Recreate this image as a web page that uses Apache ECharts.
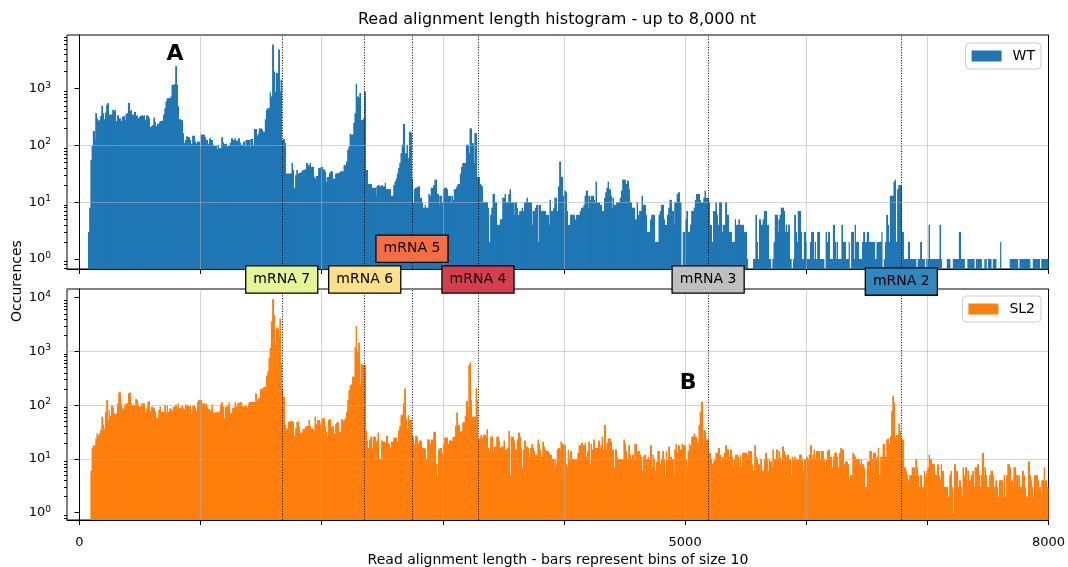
<!DOCTYPE html>
<html><head><meta charset="utf-8">
<script src="https://cdn.jsdelivr.net/npm/echarts@6/dist/echarts.min.js"></script>
<style>html,body{margin:0;padding:0;background:#fff}#c{width:1068px;height:567px}</style>
</head><body><div id="c"></div>
<script>
const binSize = 10;
const xMin = -103, xMax = 8000;
const wtCounts = [
0,0,0,0,0,0,0,3,8,56, 100,180,125,370,300,275,280,330,500,370,
290,380,520,560,350,350,350,425,400,425, 270,340,300,300,270,320,330,280,360,370,
560,400,420,350,350,390,330,340,300,320, 330,340,330,340,280,340,330,300,210,220,
230,310,260,220,240,245,270,270,275,350, 450,600,680,680,680,730,1170,1170,1200,2500,
1170,490,290,275,280,165,110,125,145,140, 140,125,107,148,148,117,110,117,117,96,
155,155,155,140,125,125,107,134,125,125, 103,98,98,86,103,90,90,140,113,107,
107,90,98,98,110,134,125,125,134,122, 122,134,113,103,103,117,96,125,125,125,
93,130,130,103,195,195,145,160,200,200, 190,175,175,290,425,455,455,860,730,6000,
2000,890,1900,1900,4900,890,1450,125,130,110, 32,32,32,32,32,49,37,18,30,37,
32,33,33,35,37,37,38,49,45,45, 49,42,42,28,26,29,29,40,40,42,
42,38,35,23,28,28,33,35,35,26, 26,32,32,33,33,35,35,35,45,45,
52,84,96,160,155,155,250,370,1220,730, 680,840,280,280,300,890,37,37,21,21,
21,18,18,18,13,19,20,20,19,20, 19,19,22,17,17,17,17,13,13,20,
23,26,32,40,49,73,103,240,73,73, 103,60,175,165,26,10,17,18,18,19,
19,12,10,8,8,9,8,8,14,13, 18,18,20,25,25,14,9,13,13,10,
17,18,18,17,13,13,10,13,11,17, 17,19,21,21,32,42,49,49,49,103,
103,73,200,200,110,49,165,165,28,28, 21,20,19,10,10,10,10,8,2,6,
8,14,14,10,4,4,4,5,5,12, 12,14,10,10,14,17,10,10,6,10,
10,8,6,7,7,8,7,10,10,12, 10,10,10,4,7,7,8,9,2,9,
9,7,7,7,7,6,6,4,11,7, 7,8,12,12,7,19,52,28,28,13,
16,15,7,4,4,6,6,6,6,5, 6,6,6,7,8,8,9,13,16,8,
13,11,13,13,11,10,23,10,10,9, 9,7,7,12,15,18,23,17,13,8,
12,9,9,10,10,10,12,16,25,25, 25,21,24,17,10,10,8,8,5,5,
10,6,7,7,13,9,9,6,3,3, 3,5,6,6,6,2,2,2,6,7,
9,9,5,4,4,6,8,11,11,7, 4,10,10,14,15,10,10,0,3,3,
5,7,3,3,4,7,7,8,11,14, 14,14,11,10,10,12,16,12,12,10,
4,4,2,7,7,10,6,4,10,10, 3,4,4,10,6,6,3,3,2,2,
2,5,4,4,5,4,4,4,3,3, 3,1,0,0,0,0,1,1,6,2,
1,5,4,4,5,7,7,4,4,1, 1,0,1,2,6,6,3,5,6,8,
8,7,3,4,3,4,1,1,0,1, 6,3,2,7,7,3,1,1,3,2,
1,1,1,2,3,3,1,2,1,3, 3,1,1,1,1,0,3,2,3,1,
1,1,4,2,1,2,1,1,1,4, 2,2,1,1,1,2,0,3,3,1,
4,2,2,1,1,1,2,3,2,2, 3,2,2,2,2,2,1,1,2,2,
2,2,3,0,1,2,6,4,2,13, 13,13,23,25,2,17,20,20,20,3,
1,1,1,1,2,1,1,1,1,1, 1,0,1,1,2,1,1,1,0,1,
1,4,1,1,1,1,1,1,1,1, 4,1,0,0,0,0,1,1,1,0,
0,1,1,1,1,1,3,1,1,1, 1,0,0,1,1,1,1,1,1,0,
1,1,1,1,1,0,0,1,1,0, 1,1,1,0,1,1,1,0,0,0,
2,0,0,0,0,0,0,0,1,1, 1,1,1,1,1,0,1,1,1,1,
1,1,1,1,1,0,0,1,1,1, 1,1,1,0,1,1,1,1,1,1
];
const sl2Counts = [
0,0,0,0,0,0,0,0,0,6, 16,18,17,24,30,27,30,35,61,44,
37,75,125,53,81,63,98,90,70,70, 70,108,173,173,108,87,87,103,108,108,
166,173,108,100,103,100,130,125,103,94, 94,108,108,108,75,87,115,119,78,94,
90,87,75,58,58,81,94,75,75,75, 100,73,100,75,87,85,78,94,94,103,
85,108,90,81,98,87,85,103,98,98, 94,98,70,98,98,90,78,115,125,125,
125,108,108,98,108,94,85,75,81,103, 73,73,73,75,73,78,103,113,94,57,
94,94,98,113,70,73,90,90,113,94, 108,108,115,113,98,94,98,98,90,108,
115,115,115,115,115,166,119,133,138,200, 200,210,220,220,355,430,760,1170,3650,9400,
4800,1350,2700,2700,1790,4100,600,205,144,43, 36,37,49,50,50,50,50,27,37,49,
50,40,31,31,36,36,40,41,41,53, 41,37,36,33,61,44,53,53,43,49,
57,57,40,32,26,53,55,40,40,41, 30,44,48,48,32,32,55,50,53,58,
75,125,190,235,245,340,340,1200,3000,1000, 1450,245,600,570,560,560,34,22,16,23,
26,16,26,26,20,22,31,10,10,22, 21,21,20,27,20,19,16,21,21,25,
25,25,21,34,41,65,67,108,205,57, 36,65,53,53,28,26,19,27,26,19,
22,22,16,16,16,15,10,23,23,19, 23,23,32,32,8,5,15,16,16,13,
19,25,25,25,19,22,22,22,26,26, 41,73,43,43,32,33,48,48,63,119,
81,560,630,125,61,61,61,210,125,23, 25,28,25,28,28,26,36,16,14,26,
26,14,17,17,26,26,22,16,17,17, 22,15,15,16,33,5,26,26,22,15,
15,23,31,26,16,7,15,22,17,17, 16,11,16,19,16,14,12,12,23,19,
15,11,21,17,15,14,14,13,12,12, 10,7,10,8,15,16,15,21,19,19,
18,8,7,15,10,14,10,10,10,10, 10,13,18,18,20,18,18,20,11,14,
21,8,19,15,23,16,16,16,22,15, 18,26,15,43,15,20,24,24,21,15,
15,7,15,11,10,10,10,10,10,23, 19,14,10,18,12,10,12,9,19,19,
14,14,12,11,6,11,12,10,10,11, 10,18,7,12,10,6,9,14,14,8,
10,14,10,5,14,10,17,11,11,10, 5,15,19,13,18,15,15,19,18,18,
10,7,14,19,18,26,26,30,26,20, 20,43,75,116,17,34,34,23,23,13,
13,10,8,9,10,13,13,16,12,9, 11,11,13,18,15,15,11,15,11,7,
10,12,12,11,7,12,7,13,13,13, 13,12,14,14,14,8,6,18,11,10,
8,6,10,6,6,10,13,10,6,10, 9,7,15,10,10,15,10,14,11,8,
17,14,12,11,12,10,10,5,11,10, 11,10,10,10,12,12,10,6,10,10,
11,10,12,18,10,12,15,10,14,14, 14,10,14,14,10,7,10,14,15,11,
11,7,11,13,13,11,7,13,16,15, 15,8,9,9,8,4,5,5,13,12,
11,10,10,10,8,10,8,7,3,3, 9,9,14,14,10,13,13,10,11,16,
5,11,11,19,19,11,23,24,19,26, 78,150,113,26,28,28,46,33,23,23,
7,7,6,5,4,5,5,7,7,5, 10,7,5,3,5,3,3,6,5,6,
7,12,10,8,8,8,5,5,8,5, 4,8,6,3,3,3,3,2,5,6,
3,1,8,6,6,3,4,3,2,7, 5,7,3,6,4,4,5,6,3,7,
7,8,5,3,5,13,5,7,5,3, 3,5,6,6,5,3,4,3,2,4,
4,4,2,5,2,5,8,8,7,4, 3,7,7,5,3,5,3,3,6,5,
3,2,2,9,5,4,3,2,5,5, 5,4,3,2,4,4,7,4,3,3
];
const seriesNames = ['WT', 'SL2'];
const seriesColors = ['#1f77b4', '#ff7f0e'];
const xTicks = [0,1000,2000,3000,4000,5000,6000,7000,8000];
const xLabels = [0,5000,8000];
const yRangeTop = [0.667, 8830];
const yRangeBottom = [0.731, 14520];
const yTicksTop = [1,10,100,1000];
const yTicksBottom = [1,10,100,1000,10000];
const mrnaNames = ['mRNA 7','mRNA 6','mRNA 5','mRNA 4','mRNA 3','mRNA 2'];
const mrnaLengths = [1670,2355,2745,3290,5190,6785];
const mrnaColors = ['#e6f598','#fee08b','#f46d43','#d53e4f','#bfbfbf','#3288bd'];
const mrnaLabelY = [0.435,0.435,1.52,0.435,0.435,0.40];
const noteTexts = ['A','B'];
const noteX = [789, 5025];
const noteY = [4080, 259];
const notePanel = [0, 1];

const FONT = 'DejaVu Sans';
const gridColor = 'rgba(176,176,176,0.55)';

function minorTicks(range) {
  const out = [];
  for (let e = -1; e <= 5; e++) for (let m = 2; m <= 9; m++) {
    const v = m * Math.pow(10, e);
    if (v > range[0] && v < range[1]) out.push(v);
  }
  return out;
}
function toData(counts) {
  const d = [];
  counts.forEach((v, i) => { if (v > 0) d.push([i * binSize, v]); });
  return d;
}
function barItem(params, api) {
  const x0 = api.value(0), v = api.value(1);
  const p = api.coord([x0, v]);
  const q = api.coord([x0 + binSize, v]);
  const base = params.coordSys.y + params.coordSys.height;
  const cnt = params.dataInsideLength;
  const idx = params.dataIndexInside;
  let right = q[0];
  if (idx + 1 < cnt && api.value(0, idx + 1) === x0 + binSize) right = Math.ceil(q[0]) + 0.01;
  return { type: 'rect',
    shape: { x: p[0], y: p[1], width: right - p[0], height: base - p[1] },
    style: { fill: api.visual('color') } };
}
function powFmt(v) {
  const e = Math.round(Math.log10(v));
  return '{b|10}{s|' + e + '}';
}
function xAxisOpt(gi, showLabels) {
  return { gridIndex: gi, type: 'value', min: xMin, max: xMax, z: 10,
    axisLine: { show: true, onZero: false, lineStyle: { color: '#000', width: 1 } },
    axisTick: { show: true, length: 5, customValues: xTicks, lineStyle: { color: '#000', width: 1 } },
    axisLabel: { show: showLabels, customValues: xLabels, margin: 15, fontSize: 13, lineHeight: 15, color: '#000', fontFamily: FONT,
      formatter: v => String(Math.round(v)) },
    splitLine: { show: true, showMinLine: false, showMaxLine: false, lineStyle: { color: gridColor, width: 1 } } };
}
function yAxisOpt(gi, range, ticks) {
  return { gridIndex: gi, type: 'log', logBase: 10, min: range[0], max: range[1], position: 'left', z: 10,
    axisLine: { show: true, lineStyle: { color: '#000', width: 1 } },
    axisTick: { show: true, length: 5, customValues: ticks, lineStyle: { color: '#000', width: 1 } },
    axisLabel: { show: true, customValues: ticks, margin: 16, formatter: powFmt,
      rich: { b: { fontSize: 13, fontFamily: FONT, color: '#000', lineHeight: 16 },
              s: { fontSize: 9, fontFamily: FONT, color: '#000', lineHeight: 9, verticalAlign: 'top' } } },
    splitLine: { show: true, showMinLine: false, showMaxLine: false, lineStyle: { color: gridColor, width: 1 } } };
}
function yMinorOpt(gi, range) {
  return { gridIndex: gi, type: 'log', logBase: 10, min: range[0], max: range[1], position: 'left', z: 10,
    axisLine: { show: false },
    axisTick: { show: true, length: 3, customValues: minorTicks(range), lineStyle: { color: '#000', width: 1 } },
    axisLabel: { show: false }, splitLine: { show: false } };
}
function seriesOpt(k, counts, xi, yi) {
  return { type: 'custom', name: seriesNames[k], xAxisIndex: xi, yAxisIndex: yi,
    data: toData(counts), encode: { x: 0, y: 1 }, renderItem: barItem, clip: true, progressive: 0,
    itemStyle: { color: seriesColors[k] }, z: 2,
    markLine: { silent: true, symbol: ['none', 'none'], label: { show: false }, animation: false,
      lineStyle: { color: '#000', type: [1, 1.6], width: 1 },
      data: mrnaLengths.map(v => ({ xAxis: v })) } };
}
function legendOpt(k, top) {
  return { data: [{ name: seriesNames[k], icon: 'rect' }], right: 27, top: top, z: 20,
    itemWidth: 30, itemHeight: 11, padding: [6, 6, 6, 6], selectedMode: false,
    borderColor: '#cccccc', borderWidth: 1, borderRadius: 4, backgroundColor: 'rgba(255,255,255,0.85)',
    textStyle: { fontSize: 14, fontFamily: FONT, color: '#000', padding: [0, 0, 0, 6] } };
}

const chart = echarts.init(document.getElementById('c'), null, { renderer: 'canvas' });
const option = {
  animation: false,
  backgroundColor: '#fff',
  textStyle: { fontFamily: FONT },
  grid: [
    { left: 67, right: 19.5, top: 35, height: 234, show: true, borderColor: '#000', borderWidth: 1, outerBoundsMode: 'none', containLabel: false },
    { left: 67, right: 19.5, top: 289, height: 231, show: true, borderColor: '#000', borderWidth: 1, outerBoundsMode: 'none', containLabel: false }
  ],
  xAxis: [xAxisOpt(0, false), xAxisOpt(1, true)],
  yAxis: [yAxisOpt(0, yRangeTop, yTicksTop), yMinorOpt(0, yRangeTop), yAxisOpt(1, yRangeBottom, yTicksBottom), yMinorOpt(1, yRangeBottom)],
  legend: [legendOpt(0, 43), legendOpt(1, 296)],
  series: [seriesOpt(0, wtCounts, 0, 0), seriesOpt(1, sl2Counts, 1, 2)]
};
chart.setOption(option);

const gfx = [];
gfx.push({ type: 'text', x: 557, y: 20, z: 100, style: { text: 'Read alignment length histogram - up to 8,000 nt', font: '16px "DejaVu Sans"', fill: '#000', align: 'center', verticalAlign: 'middle' } });
gfx.push({ type: 'text', x: 558, y: 560, z: 100, style: { text: 'Read alignment length - bars represent bins of size 10', font: '14px "DejaVu Sans"', fill: '#000', align: 'center', verticalAlign: 'middle' } });
gfx.push({ type: 'text', x: 17, y: 281, rotation: Math.PI / 2, z: 100, style: { text: 'Occurences', x: 0, y: 0, font: '14px "DejaVu Sans"', fill: '#000', align: 'center', verticalAlign: 'middle' } });
mrnaNames.forEach((n, k) => {
  const p = chart.convertToPixel({ xAxisIndex: 0, yAxisIndex: 0 }, [mrnaLengths[k], mrnaLabelY[k]]);
  gfx.push({ type: 'text', x: p[0], y: p[1], z: 100, style: { text: n, x: 0, y: 0, font: '14px "DejaVu Sans"', fill: '#000',
    align: 'center', verticalAlign: 'middle', backgroundColor: mrnaColors[k], borderColor: '#000', borderWidth: 1.3,
    padding: [5, 7, 5, 7], lineHeight: 16 } });
});
noteTexts.forEach((t, k) => {
  const yi = notePanel[k] === 0 ? 0 : 2;
  const p = chart.convertToPixel({ xAxisIndex: notePanel[k], yAxisIndex: yi }, [noteX[k], noteY[k]]);
  gfx.push({ type: 'text', x: p[0], y: p[1], z: 100, style: { text: t, x: 0, y: 0, font: 'bold 22px "DejaVu Sans"', fill: '#000', align: 'center', verticalAlign: 'middle' } });
});
chart.setOption({ graphic: gfx });
</script></body></html>
